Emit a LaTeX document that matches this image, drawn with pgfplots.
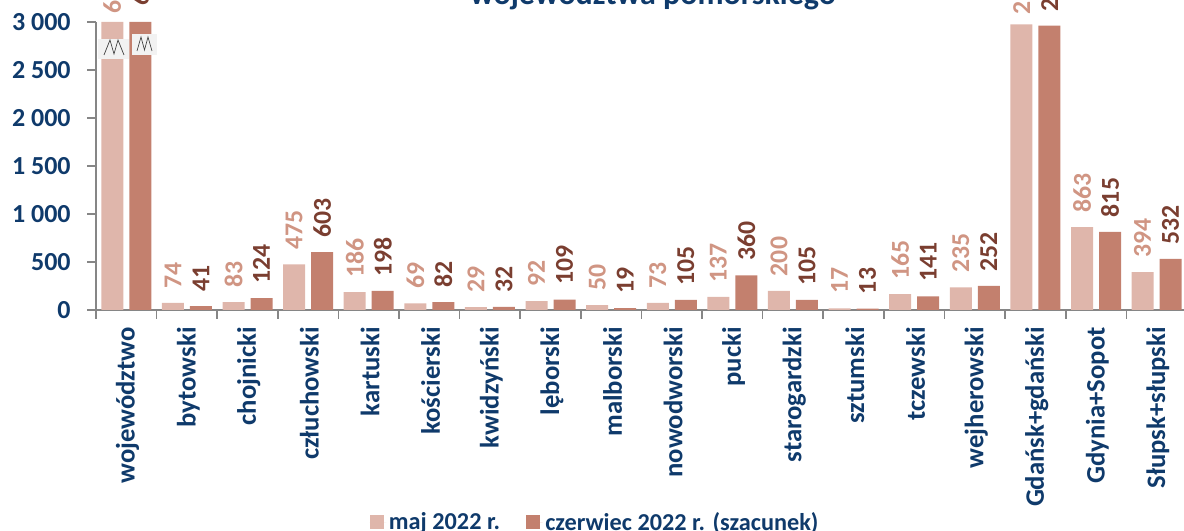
\documentclass[border=0pt]{standalone}
\usepackage{fontspec}
\setmainfont{Carlito}
\usepackage{pgfplots}
\usepackage{pgfplotstable}
\pgfplotsset{compat=1.18}
\definecolor{navy}{HTML}{0F3A6B}
\definecolor{lightbar}{HTML}{DFB6AB}
\definecolor{darkbar}{HTML}{C3806E}
\definecolor{lightlab}{HTML}{D09583}
\definecolor{darklab}{HTML}{7A3E30}
\definecolor{axisgrey}{HTML}{868686}
\definecolor{breakbg}{HTML}{F2F2F2}

% 1px of the reference = 0.75pt; bars of wojewodztwo are cut at 3000, meta holds the label
% dy = lift of the label above the bar, pt
\pgfplotstableread{
x  maj   majlab dy
0  3000  6117   2.5
1  74    74     7.5
2  83    83     7.5
3  475   475    7.5
4  186   186    7.5
5  69    69     7.5
6  29    29     7.5
7  92    92     7.5
8  50    50     7.5
9  73    73     7.5
10 137   137    7.5
11 200   200    7.5
12 17    17     7.5
13 165   165    7.5
14 235   235    7.5
15 2976  2976   3.5
16 863   863    7.5
17 394   394    7.5
}\majdata
\pgfplotstableread{
x  cze   czelab dy
0  3000  6491   9
1  41    41     7.5
2  124   124    7.5
3  603   603    7.5
4  198   198    7.5
5  82    82     7.5
6  32    32     7.5
7  109   109    7.5
8  19    19     7.5
9  105   105    7.5
10 360   360    7.5
11 105   105    7.5
12 13    13     7.5
13 141   141    7.5
14 252   252    7.5
15 2961  2961   7.5
16 815   815    7.5
17 532   532    7.5
}\czedata

\begin{document}
\begin{tikzpicture}
\path[use as bounding box, clip] (0,0) rectangle (888pt,398.25pt);
\begin{axis}[
    at={(72pt,165.75pt)},
    anchor=south west,
    scale only axis,
    width=818.2pt,
    height=216pt,
    xmin=-0.5, xmax=17.5,
    ymin=0, ymax=3000,
    clip=false,
    axis x line*=bottom,
    axis y line*=left,
    axis line style={axisgrey, line width=1.4pt, -},
    ybar=4.5pt,
    bar width=16.5pt,
    xtick={-0.5,0.5,...,17.5},
    x tick label as interval,
    xticklabels={województwo,bytowski,chojnicki,człuchowski,kartuski,kościerski,kwidzyński,lęborski,malborski,nowodworski,pucki,starogardzki,sztumski,tczewski,wejherowski,Gdańsk+gdański,Gdynia+Sopot,Słupsk+słupski},
    x tick label style={rotate=90, anchor=east, font=\fontsize{20}{20}\selectfont\bfseries, text=navy, yshift=-1pt, xshift=-3pt},
    ytick={0,500,...,3000},
    y tick label style={font=\fontsize{19.5}{19.5}\selectfont\bfseries, text=navy, xshift=-9pt},
    /pgf/number format/assume math mode=true,
    /pgf/number format/1000 sep={\ },
    tick align=outside,
    major tick length=6.5pt,
    tick style={axisgrey, line width=1.2pt},
    point meta=explicit,
    visualization depends on={\thisrow{dy} \as \labdy},
    nodes near coords,
    nodes near coords style={yshift=\labdy pt, rotate=90, anchor=west, font=\fontsize{19.3}{19.3}\selectfont\bfseries},
    legend style={draw=none, fill=none, at={(axis description cs:0.4578,-0.737)}, anchor=center, legend columns=2, font=\fontsize{18.2}{18.2}\selectfont\bfseries, text=navy, /tikz/every even column/.append style={column sep=17.5pt}},
    legend image code/.code={\fill[#1] (0pt,-5.2pt) rectangle (10.5pt,5.2pt); \path (0pt,0pt) -- (12.5pt,0pt);},
]
\addplot[fill=lightbar, draw=none, nodes near coords style={text=lightlab}] table[x=x, y=maj, meta=majlab] {\majdata};
\addplot[fill=darkbar, draw=none, nodes near coords style={text=darklab}] table[x=x, y=cze, meta=czelab] {\czedata};
\legend{maj 2022 r., czerwiec 2022 r. (szacunek)}
\end{axis}
% axis-break marks on the two cut bars, in reference pixels
\begin{scope}[x=0.75pt, y=-0.75pt, yshift=398.25pt]
\fill[breakbg] (98,39) rectangle (129,59);
\draw[black!75, line width=0.5pt] (104,55) -- (110,40) -- (114,54) -- (118,40) -- (124,55);
\fill[breakbg] (132,34) rectangle (157,55);
\draw[black!75, line width=0.5pt] (137,51) -- (141,37) -- (144.5,50) -- (148,37) -- (152,51);
\node[anchor=base, text=navy, font=\fontsize{24}{24}\selectfont\bfseries] at (653,5) {województwa pomorskiego};
\end{scope}
\end{tikzpicture}
\end{document}
